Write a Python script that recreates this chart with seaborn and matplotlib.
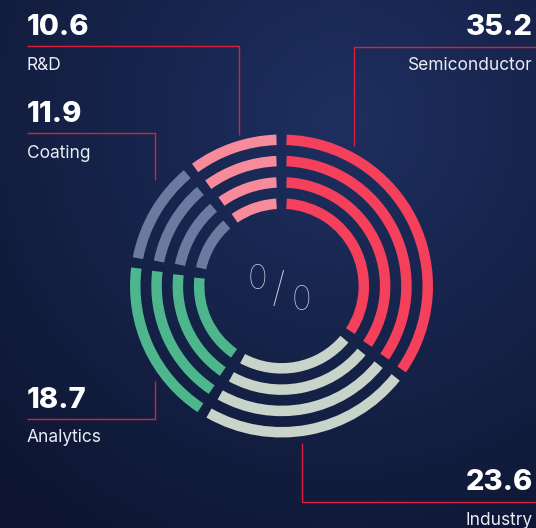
import numpy as np
import matplotlib
matplotlib.use("Agg")
import matplotlib.pyplot as plt
from matplotlib.patches import Wedge
from matplotlib.colors import to_rgb
import seaborn as sns

# --- DATA ---
categories = ["Semiconductor", "Industry", "Analytics", "Coating", "R&D"]
shares = [35.2, 23.6, 18.7, 11.9, 10.6]
value_labels = ["35.2", "23.6", "18.7", "11.9", "10.6"]
ring_colors = ["#f5405c", "#c8d4ca", "#4db68c", "#6a7ba0", "#f78b9b"]

# --- LAYOUT (pixels, y down) ---
W, H = 536, 528
CX, CY = 281.5, 286.0
RING_OUTER = [151.5, 130.2, 108.9, 87.6]
RING_WIDTH = 10.5
HALF_GAP = 5.0
LINE_COLOR = "#dc1f3d"
TEXT_COLOR = "#e9ecf3"

# label anchor: (x, number_baseline, label_baseline, ha), leader line path
callouts = {
    "R&D": ((27, 35, 70.5, "left"), [(27, 46), (238.5, 46), (238.5, 135)]),
    "Coating": ((27, 122, 158.5, "left"), [(27, 133), (155, 133), (155, 180)]),
    "Semiconductor": ((533, 35, 70.5, "right"), [(536, 47), (354, 47), (354, 146)]),
    "Analytics": ((27, 408, 442.5, "left"), [(27, 419), (155, 419), (155, 381)]),
    "Industry": ((533, 490, 525, "right"), [(302, 443), (302, 502), (536, 502)]),
}

sns.set_theme(style="dark")
plt.rcParams["font.family"] = ["Inter", "DejaVu Sans"]

fig = plt.figure(figsize=(W / 100, H / 100), dpi=100)
ax = fig.add_axes([0, 0, 1, 1])
ax.set_xlim(0, W)
ax.set_ylim(H, 0)
ax.set_axis_off()

# background: soft radial glow
yy, xx = np.mgrid[0:H, 0:W]
d = np.clip(np.hypot((xx - 340) / 500, (yy - 120) / 500), 0, 1)[..., None]
c0 = np.array(to_rgb("#1e2f60"))
c1 = np.array(to_rgb("#0d1530"))
bg = c0 * (1 - d) + c1 * d
ax.imshow(bg, extent=(0, W, H, 0), origin="upper", zorder=0, aspect="auto")

# rings: clockwise from 12 o'clock, gaps of constant width
angles = np.cumsum([0] + [s / sum(shares) * 360 for s in shares])
for r_out in RING_OUTER:
    r_mid = r_out - RING_WIDTH / 2
    off = np.degrees(np.arcsin(HALF_GAP / r_mid))
    for i, col in enumerate(ring_colors):
        t1 = -90 + angles[i] + off
        t2 = -90 + angles[i + 1] - off
        ax.add_patch(Wedge((CX, CY), r_out, t1, t2, width=RING_WIDTH,
                           facecolor=col, edgecolor="none", zorder=2))

# callouts
for cat, val in zip(categories, value_labels):
    (x, ny, ly, ha), path = callouts[cat]
    px, py = zip(*path)
    ax.plot(px, py, color=LINE_COLOR, lw=1.0, zorder=1, solid_capstyle="butt")
    ax.text(x, ny, val, ha=ha, va="baseline", fontsize=21, fontweight="heavy",
            color="white", zorder=3)
    ax.text(x, ly, cat, ha=ha, va="baseline", fontsize=12.5, color=TEXT_COLOR,
            zorder=3)

# centre percent sign
pc = "#c9cede"
ax.text(CX - 24, CY - 6, "0", ha="center", va="center", fontsize=24,
        fontweight=100, color=pc, zorder=3)
ax.text(CX - 3, CY + 4, "/", ha="center", va="center", fontsize=30,
        fontweight=100, color=pc, zorder=3)
ax.text(CX + 20, CY + 15, "0", ha="center", va="center", fontsize=24,
        fontweight=100, color=pc, zorder=3)

fig.savefig("out.png", dpi=100)
